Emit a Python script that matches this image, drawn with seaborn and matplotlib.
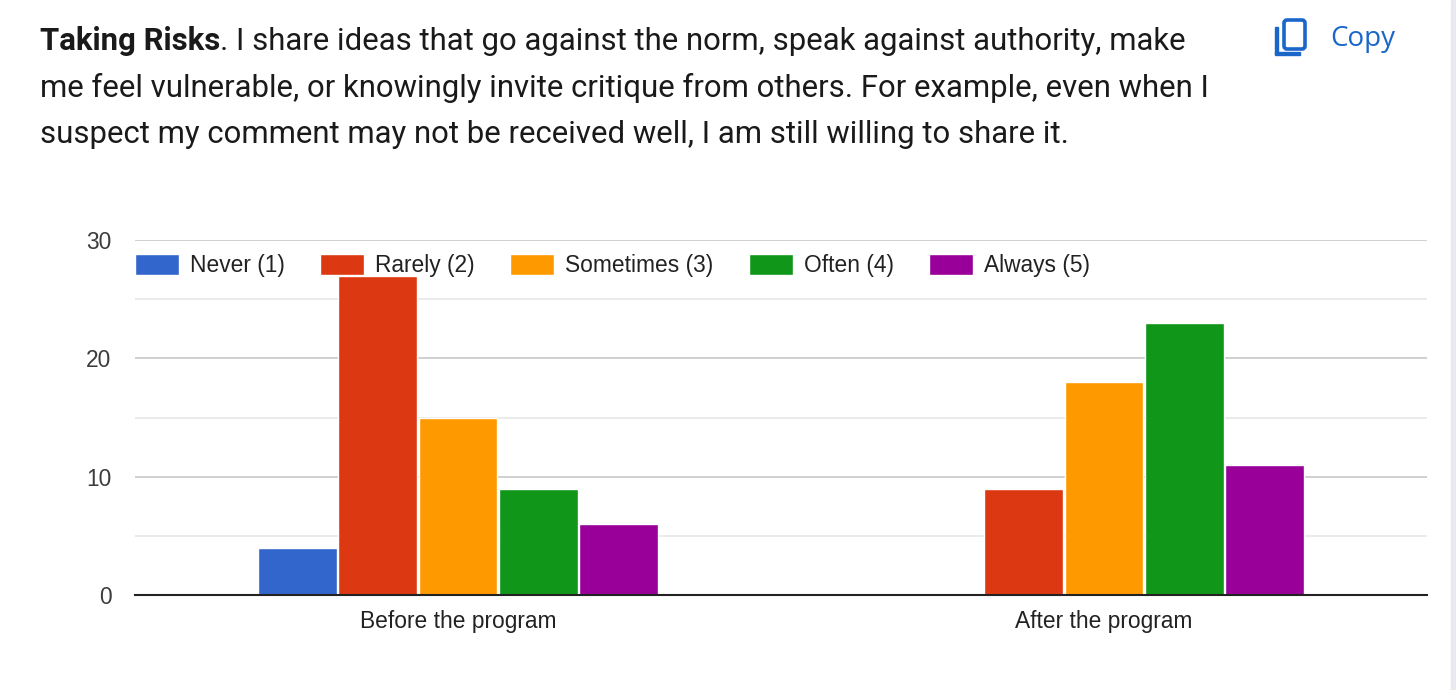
import matplotlib
matplotlib.use("Agg")
import matplotlib.pyplot as plt
from matplotlib.patches import Patch, Rectangle, FancyBboxPatch
import pandas as pd
import seaborn as sns

groups = ["Before the program", "After the program"]
answers = ["Never (1)", "Rarely (2)", "Sometimes (3)", "Often (4)", "Always (5)"]
before = [4, 27, 15, 9, 6]
after = [0, 9, 18, 23, 11]
colors = ["#3366cc", "#dc3912", "#ff9900", "#109618", "#990099"]
y_ticks = [0, 10, 20, 30]
y_minor = [5, 15, 25]

heading_bold = "Taking Risks"
heading_lines = [
    ". I share ideas that go against the norm, speak against authority, make",
    "me feel vulnerable, or knowingly invite critique from others. For example, even when I",
    "suspect my comment may not be received well, I am still willing to share it.",
]

W, H = 1456, 690
df = pd.DataFrame({
    "group": [g for g in groups for _ in answers],
    "answer": answers * 2,
    "count": before + after,
})

sns.set_theme(style="white")
plt.rcParams["font.family"] = ["Liberation Sans", "DejaVu Sans"]

fig = plt.figure(figsize=(W / 100, H / 100), dpi=100, facecolor="white")
ax = fig.add_axes([135 / W, 1 - 595 / H, (1427 - 135) / W, (595 - 240) / H])

sns.barplot(data=df, x="group", y="count", hue="answer", hue_order=answers,
            palette=colors, width=0.622, gap=0.02, saturation=1, legend=False, ax=ax)

ax.set_xlim(-0.5, 1.5)
ax.set_ylim(0, 30)
ax.set_xlabel("")
ax.set_ylabel("")
ax.set_yticks(y_ticks)
ax.set_yticks(y_minor, minor=True)
ax.grid(axis="y", which="major", color="#c4c4c4", lw=1.1)
ax.grid(axis="y", which="minor", color="#e6e6e6", lw=1.1)
ax.set_axisbelow(True)
for s in ["top", "left", "right"]:
    ax.spines[s].set_visible(False)
ax.spines["bottom"].set_color("#222222")
ax.spines["bottom"].set_linewidth(1.5)
ax.tick_params(axis="both", which="both", length=0)
ax.tick_params(axis="x", labelsize=16.4, labelcolor="#222222", pad=11)
ax.tick_params(axis="y", labelsize=16.4, labelcolor="#3c3c3c", pad=17)

# legend sits inside the plot, just under the 30 line
handles = [Patch(facecolor=c, label=a) for c, a in zip(colors, answers)]
ax.legend(handles=handles, ncol=5, frameon=False, loc="upper left",
          bbox_to_anchor=(0, 0.96), borderaxespad=0, borderpad=0,
          fontsize=16.4, handlelength=1.93, handleheight=1.0,
          handletextpad=0.48, columnspacing=1.56, labelcolor="#222222")

# heading, bold part first then the rest of the line after it
text_kw = dict(fontsize=22.45, color="#1a1a1a", family=["Roboto", "DejaVu Sans"], va="baseline")
bold = fig.text(40 / W, 1 - 50 / H, heading_bold, fontweight="bold", **text_kw)
fig.canvas.draw()
bold_end = bold.get_window_extent().x1
fig.text(bold_end / W, 1 - 50 / H, heading_lines[0], **text_kw)
fig.text(40 / W, 1 - 97 / H, heading_lines[1], **text_kw)
fig.text(40 / W, 1 - 143 / H, heading_lines[2], **text_kw)

# copy button
blue = "#1a66c9"
fig.text(1330 / W, 1 - 46 / H, "Copy", fontsize=20, color=blue,
         family=["Open Sans", "DejaVu Sans"], va="baseline")
to_px = matplotlib.transforms.Affine2D().scale(1 / W, -1 / H).translate(0, 1) + fig.transFigure
fig.add_artist(FancyBboxPatch((1284, 20), 21, 29, boxstyle="round,pad=0,rounding_size=3",
                              fill=False, ec=blue, lw=2.6, transform=to_px))
fig.add_artist(Rectangle((1275, 27), 3, 27, color=blue, transform=to_px))
fig.add_artist(Rectangle((1275, 52), 25, 3, color=blue, transform=to_px))
# page edge on the right
fig.add_artist(Rectangle((1451, 0), 5, H, color="#e9e9ef", transform=to_px))

fig.savefig("out.png", dpi=100)
